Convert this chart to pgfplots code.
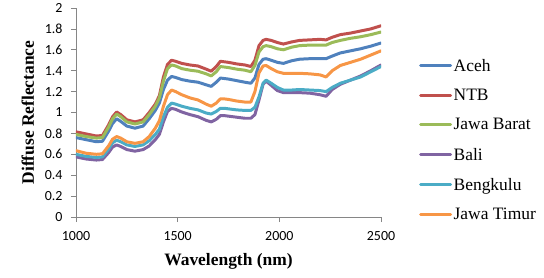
\documentclass[border=0pt]{standalone}
\usepackage{fontspec}
\setmainfont{Liberation Serif}
\newfontfamily\calibri{Carlito}
\usepackage{pgfplots}
\pgfplotsset{compat=1.18}
\usepackage{pgfplotstable}
\usetikzlibrary{calc}
\definecolor{cAceh}{HTML}{4F81BD}
\definecolor{cNTB}{HTML}{C0504D}
\definecolor{cJB}{HTML}{9BBB59}
\definecolor{cBali}{HTML}{8064A2}
\definecolor{cBeng}{HTML}{4BACC6}
\definecolor{cJT}{HTML}{F79646}
\definecolor{axgray}{RGB}{134,134,134}
\pgfplotstableread{
x aceh ntb jb bali beng jt
1000 0.760 0.815 0.790 0.575 0.600 0.635
1050 0.740 0.795 0.770 0.555 0.580 0.610
1100 0.720 0.775 0.755 0.545 0.570 0.600
1130 0.725 0.780 0.760 0.550 0.575 0.605
1160 0.820 0.880 0.860 0.615 0.650 0.680
1180 0.895 0.960 0.940 0.670 0.710 0.745
1200 0.940 1.005 0.985 0.690 0.735 0.770
1220 0.915 0.980 0.960 0.675 0.720 0.755
1250 0.870 0.930 0.910 0.645 0.690 0.720
1290 0.850 0.910 0.890 0.630 0.675 0.705
1330 0.870 0.930 0.910 0.645 0.690 0.720
1360 0.940 1.000 0.980 0.680 0.730 0.770
1390 1.020 1.080 1.060 0.740 0.790 0.850
1410 1.090 1.160 1.140 0.790 0.840 0.920
1430 1.220 1.340 1.300 0.910 0.960 1.060
1450 1.310 1.460 1.420 1.010 1.050 1.170
1470 1.345 1.500 1.455 1.040 1.090 1.215
1490 1.335 1.490 1.445 1.030 1.080 1.200
1520 1.315 1.470 1.420 1.005 1.060 1.170
1560 1.300 1.455 1.405 0.980 1.040 1.140
1600 1.290 1.445 1.395 0.960 1.025 1.120
1640 1.265 1.415 1.370 0.925 0.995 1.080
1665 1.250 1.395 1.350 0.910 0.985 1.060
1690 1.290 1.440 1.390 0.935 1.010 1.090
1710 1.330 1.490 1.440 0.970 1.040 1.130
1730 1.325 1.485 1.435 0.970 1.040 1.130
1750 1.320 1.480 1.430 0.965 1.035 1.125
1790 1.305 1.465 1.415 0.955 1.025 1.110
1830 1.290 1.455 1.405 0.945 1.020 1.100
1860 1.280 1.440 1.390 0.945 1.020 1.100
1880 1.330 1.500 1.450 0.980 1.050 1.200
1900 1.460 1.640 1.580 1.120 1.150 1.380
1920 1.510 1.690 1.630 1.270 1.280 1.445
1935 1.515 1.700 1.640 1.300 1.310 1.450
1960 1.500 1.690 1.630 1.260 1.280 1.420
1990 1.480 1.670 1.610 1.210 1.240 1.390
2020 1.470 1.655 1.600 1.190 1.215 1.375
2060 1.495 1.675 1.625 1.190 1.215 1.375
2100 1.510 1.690 1.640 1.190 1.220 1.375
2150 1.515 1.695 1.645 1.185 1.215 1.370
2200 1.515 1.700 1.645 1.170 1.210 1.360
2230 1.515 1.695 1.645 1.155 1.200 1.340
2260 1.540 1.720 1.670 1.220 1.240 1.400
2300 1.570 1.745 1.690 1.270 1.280 1.450
2350 1.590 1.760 1.710 1.310 1.310 1.480
2400 1.610 1.780 1.725 1.350 1.340 1.510
2450 1.635 1.800 1.745 1.400 1.390 1.550
2500 1.665 1.830 1.770 1.455 1.440 1.590
}\datatable
\begin{document}
\begin{tikzpicture}
\begin{axis}[
  name=a,
  at={(0,0)}, anchor=south west,
  scale only axis,
  width=305bp, height=209bp,
  xmin=1000, xmax=2500, ymin=0, ymax=2,
  xtick={1000,1500,2000,2500},
  ytick={0,0.2,0.4,0.6,0.8,1,1.2,1.4,1.6,1.8,2},
  yticklabels={0,0.2,0.4,0.6,0.8,1,1.2,1.4,1.6,1.8,2},
  xticklabels={1000,1500,2000,2500},
  axis x line*=bottom, axis y line*=left,
  axis line style={draw=axgray, line width=0.8pt, -},
  tick style={draw=axgray, line width=0.8pt},
  tick align=outside, major tick length=5bp,
  tick label style={font=\calibri\fontsize{14}{15}\selectfont, text=black},
  xticklabel style={yshift=-6bp},
  yticklabel style={xshift=-5bp},
  xlabel={\textbf{Wavelength (nm)}},
  ylabel={\textbf{Diffuse Reflectance}},
  label style={font=\fontsize{17.5}{18}\selectfont},
  xlabel style={yshift=-6bp},
  ylabel style={yshift=4bp},
  legend style={at={(1.1246,0.368)}, anchor=west, draw=none, fill=none,
    font=\fontsize{17.5}{18}\selectfont, inner sep=0pt, row sep=13.5bp,
    nodes={inner sep=1.5bp}},
  legend cell align=left,
  legend image code/.code={\draw[#1] (0bp,0bp) -- (30bp,0bp);},
  every axis plot/.append style={line width=3pt, line join=round, line cap=round, no marks},
]
\addplot[cAceh] table[x=x,y=aceh]{\datatable};
\addplot[cNTB] table[x=x,y=ntb]{\datatable};
\addplot[cJB] table[x=x,y=jb]{\datatable};
\addplot[cBali] table[x=x,y=bali]{\datatable};
\addplot[cBeng] table[x=x,y=beng]{\datatable};
\addplot[cJT] table[x=x,y=jt]{\datatable};
\legend{Aceh,NTB,Jawa Barat,Bali,Bengkulu,Jawa Timur}
\end{axis}
\pgfresetboundingbox
\path ($(a.south west)+(-76bp,-61bp)$) rectangle ($(a.south west)+(468bp,217bp)$);
\end{tikzpicture}
\end{document}
